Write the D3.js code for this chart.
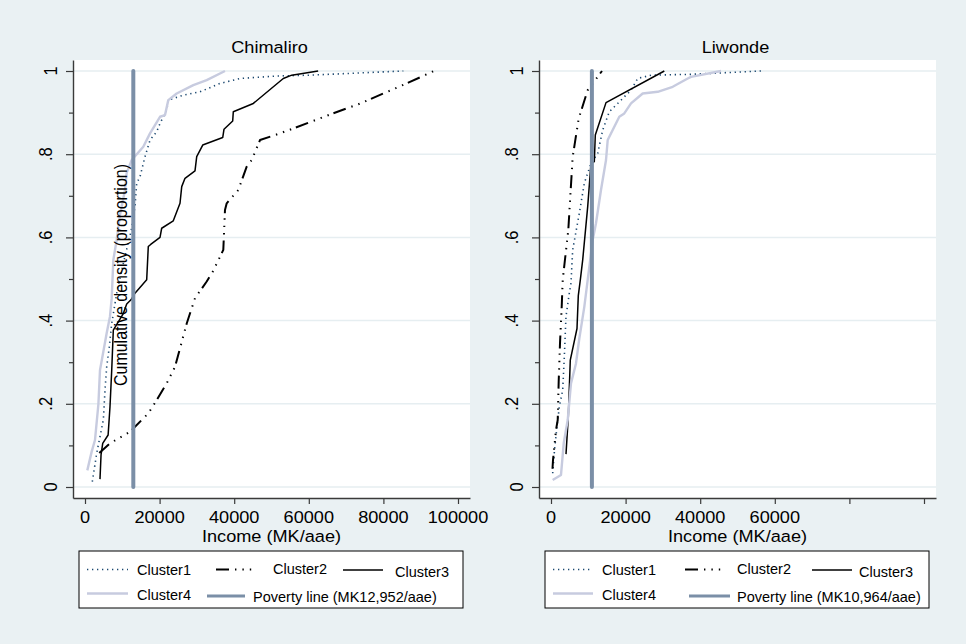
<!DOCTYPE html>
<html>
<head>
<meta charset="utf-8">
<script src="https://cdn.jsdelivr.net/npm/d3@7"></script>
<style>
  html, body { margin: 0; padding: 0; background: #eaf1f3; }
  svg { display: block; font-family: "Liberation Sans", Arial, sans-serif; }
</style>
</head>
<body>
<svg id="chart" width="966" height="644"></svg>
<script>
// ---------------- DATA ----------------
const panelNames = ["Chimaliro", "Liwonde"];
const seriesNames = ["Cluster1", "Cluster2", "Cluster3", "Cluster4"];
const povertyLines = [12952, 10964];
const povertyLabels = ["Poverty line (MK12,952/aae)", "Poverty line (MK10,964/aae)"];
const xTickValues = [0, 20000, 40000, 60000, 80000, 100000];
const xTickLabelsChimaliro = ["0", "20000", "40000", "60000", "80000", "100000"];
const xTickLabelsLiwonde = ["0", "20000", "40000", "60000", "", ""];
const yTickValues = [0, 0.2, 0.4, 0.6, 0.8, 1];
const yTickLabels = ["0", ".2", ".4", ".6", ".8", "1"];
const yMinorTicks = [0.1, 0.3, 0.5, 0.7, 0.9];
const xTitle = "Income (MK/aae)";
const yTitle = "Cumulative density (proportion)";

// [income, cumulative proportion]
const chimaliroC1 = [[1960,0.013],[3140,0.081],[4020,0.121],[4910,0.161],[5360,0.233],[5820,0.289],[6520,0.337],[7160,0.393],[8580,0.47],[10460,0.545],[12330,0.614],[13400,0.674],[13860,0.73],[14750,0.746],[16090,0.794],[17430,0.834],[19220,0.854],[20110,0.874],[21900,0.906],[22330,0.93],[26350,0.942],[30830,0.95],[36190,0.97],[41560,0.982],[51390,0.988],[60320,0.99],[85340,1.0]];
const chimaliroC2 = [[3830,0.082],[6700,0.105],[12100,0.133],[13400,0.145],[16970,0.177],[19220,0.209],[21900,0.249],[24130,0.289],[27270,0.393],[29490,0.454],[32630,0.494],[34400,0.52],[37080,0.57],[37530,0.666],[37990,0.682],[41100,0.714],[43350,0.77],[44690,0.786],[46920,0.834],[52280,0.85],[55850,0.862],[62990,0.886],[66130,0.897],[73270,0.92],[76410,0.932],[83110,0.958],[86680,0.972],[93570,1.0]];
const chimaliroC3 = [[4020,0.019],[4300,0.077],[4750,0.105],[6200,0.125],[6700,0.193],[7160,0.28],[7590,0.377],[10270,0.417],[11180,0.44],[12330,0.45],[13400,0.466],[16540,0.498],[16970,0.578],[17610,0.583],[20110,0.6],[20560,0.622],[23670,0.64],[25470,0.682],[25930,0.722],[26810,0.742],[29490,0.76],[29950,0.794],[31560,0.822],[36920,0.84],[37270,0.86],[39600,0.88],[39760,0.902],[45120,0.922],[53160,0.982],[55420,0.99],[62500,1.0]];
const chimaliroC4 = [[620,0.04],[1790,0.085],[2680,0.113],[3600,0.2],[4020,0.281],[4910,0.325],[5820,0.37],[6700,0.41],[7160,0.454],[7600,0.546],[8490,0.594],[9380,0.654],[10720,0.714],[11180,0.755],[12520,0.786],[15630,0.818],[17430,0.85],[20110,0.89],[21450,0.894],[22330,0.93],[24580,0.946],[29040,0.966],[32630,0.978],[37530,1.0]];

const liwondeC1 = [[450,0.033],[940,0.089],[1800,0.161],[2230,0.193],[3140,0.233],[3570,0.313],[4020,0.41],[4910,0.466],[5360,0.49],[5820,0.57],[7590,0.658],[8930,0.73],[10720,0.778],[12520,0.802],[13860,0.858],[15630,0.902],[17880,0.922],[21450,0.954],[23240,0.982],[26810,0.99],[37530,0.992],[56300,1.0]];
const liwondeC2 = [[400,0.044],[540,0.065],[1340,0.137],[1800,0.161],[2060,0.253],[2410,0.345],[2870,0.433],[3140,0.498],[4640,0.618],[5170,0.698],[5820,0.794],[7430,0.886],[9840,0.954],[13670,1.0]];
const liwondeC3 = [[4020,0.079],[4640,0.169],[5170,0.305],[6970,0.381],[7320,0.46],[7860,0.498],[8500,0.546],[9840,0.674],[10720,0.778],[11610,0.782],[11880,0.846],[14750,0.924],[30380,1.0]];
const liwondeC4 = [[450,0.017],[2680,0.029],[3410,0.105],[4480,0.161],[5360,0.249],[6700,0.297],[7590,0.357],[8930,0.433],[9840,0.498],[11180,0.594],[12060,0.634],[13400,0.714],[14750,0.786],[15200,0.834],[16540,0.858],[18310,0.89],[19650,0.898],[21450,0.922],[24580,0.946],[28610,0.95],[32630,0.962],[36650,0.982],[37530,0.986],[45580,1.0]];

// ---------------- STYLE / LAYOUT ----------------
const seriesStyles = [
  { stroke: "#1a476f", width: 1.6, dash: "1.3,3.7" },
  { stroke: "#000000", width: 2.0, dash: "13,6,1.4,6,1.4,6,1.4,5" },
  { stroke: "#000000", width: 1.5, dash: null },
  { stroke: "#c7cbdf", width: 2.4, dash: null }
];
const povStyle = { stroke: "#7b8fa7", width: 4 };
const bg = "#eaf1f3";
const gridColor = "#e6eef1";
const axisColor = "#3a3a3a";
const FONT = 16.5;

const svg = d3.select("#chart");
svg.append("rect").attr("width", 966).attr("height", 644).attr("fill", bg);

const panels = [
  { name: panelNames[0], left: 73, right: 470, data: [chimaliroC1, chimaliroC2, chimaliroC3, chimaliroC4],
    pov: povertyLines[0], povLabel: povertyLabels[0], xLabels: xTickLabelsChimaliro, yTitle: true,
    legend: { x: 79, items: [[8,49,58],[137,173,194],[264,304,316],[8,49,58],[128,166,174]] } },
  { name: panelNames[1], left: 539, right: 936, data: [liwondeC1, liwondeC2, liwondeC3, liwondeC4],
    pov: povertyLines[1], povLabel: povertyLabels[1], xLabels: xTickLabelsLiwonde, yTitle: false,
    legend: { x: 545, items: [[8,48,57],[140,177,192],[267,307,314],[8,48,57],[144,185,192]] } }
];

const plotTop = 60, plotBottom = 498;

function txt(g, x, y, s, size, anchor, rot) {
  return g.append("text")
    .attr("transform", `translate(${x},${y}) scale(1.1,1)${rot ? " rotate(-90)" : ""}`)
    .attr("text-anchor", anchor)
    .style("font-size", size + "px")
    .attr("fill", "#000")
    .text(s);
}

panels.forEach(p => {
  const g = svg.append("g");
  // 0 -> left+12, 100000 -> left+385
  const x = d3.scaleLinear().domain([-3217, 103217]).range([p.left, p.right]);
  const y = d3.scaleLinear().domain([-11/416, 1 + 11/416]).range([plotBottom, plotTop]);

  g.append("rect").attr("x", p.left).attr("y", plotTop)
    .attr("width", p.right - p.left).attr("height", plotBottom - plotTop).attr("fill", "#fff");

  // gridlines
  g.selectAll(".grid").data(yTickValues).join("line")
    .attr("x1", p.left).attr("x2", p.right)
    .attr("y1", d => y(d)).attr("y2", d => y(d))
    .attr("stroke", gridColor).attr("stroke-width", 1.5);

  // axes
  g.append("g").attr("transform", `translate(${p.left},0)`)
    .call(d3.axisLeft(y).tickValues(yTickValues).tickSize(7).tickSizeOuter(0).tickFormat(""));
  g.append("g").attr("transform", `translate(${p.left},0)`)
    .call(d3.axisLeft(y).tickValues(yMinorTicks).tickSize(4).tickSizeOuter(0).tickFormat(""))
    .select(".domain").remove();
  g.append("g").attr("transform", `translate(0,${plotBottom})`)
    .call(d3.axisBottom(x).tickValues(xTickValues).tickSize(6).tickSizeOuter(0).tickFormat(""));
  g.selectAll(".tick line, .domain").attr("stroke", axisColor).attr("stroke-width", 1.2);
  g.selectAll(".domain").attr("stroke-width", 1.4);

  // tick labels (vertical, Stata-style; labels with a leading dot sit a little further out)
  yTickValues.forEach((v, i) => {
    const lab = yTickLabels[i];
    const off = lab.startsWith(".") ? 21 : 16;
    txt(g, p.left - off, y(v), lab, FONT, "middle", true);
  });
  xTickValues.forEach((v, i) => { if (p.xLabels[i]) txt(g, x(v), 523, p.xLabels[i], FONT, "middle", false); });

  // titles
  txt(g, (p.left + p.right) / 2 - 2, 53.3, p.name, FONT, "middle", false);
  txt(g, (p.left + p.right) / 2, 541.5, xTitle, FONT, "middle", false);

  // series
  const line = d3.line().x(d => x(d[0])).y(d => y(d[1])).curve(d3.curveLinear);
  p.data.forEach((ser, i) => {
    const st = seriesStyles[i];
    g.append("path").datum(ser).attr("d", line)
      .attr("fill", "none").attr("stroke", st.stroke).attr("stroke-width", st.width)
      .attr("stroke-dasharray", st.dash).attr("stroke-linejoin", "round");
  });
  // poverty line
  g.append("path").datum([[p.pov, 0], [p.pov, 1]]).attr("d", line)
    .attr("stroke", povStyle.stroke).attr("stroke-width", povStyle.width).attr("stroke-linecap", "round");

  if (p.yTitle) txt(g, 126.5, 275, yTitle, 16, "middle", true);

  // legend
  const L = p.legend;
  const lg = g.append("g").attr("transform", `translate(${L.x},551)`);
  lg.append("rect").attr("width", 384).attr("height", 57).attr("fill", "#fff")
    .attr("stroke", "#000").attr("stroke-width", 1);
  const rows = [[18.5, 23.5], [18.5, 23], [19, 26], [42.5, 48.5], [45, 50.5]];
  const labels = seriesNames.concat([p.povLabel]);
  const styles = seriesStyles.concat([{ stroke: povStyle.stroke, width: 3, dash: null }]);
  labels.forEach((lab, i) => {
    const it = L.items[i], st = styles[i];
    lg.append("line").attr("x1", it[0]).attr("x2", it[1]).attr("y1", rows[i][0]).attr("y2", rows[i][0])
      .attr("stroke", st.stroke).attr("stroke-width", st.width).attr("stroke-dasharray", st.dash);
    lg.append("text").attr("x", it[2]).attr("y", rows[i][1]).style("font-size", "14.5px").text(lab);
  });
});
</script>
</body>
</html>
